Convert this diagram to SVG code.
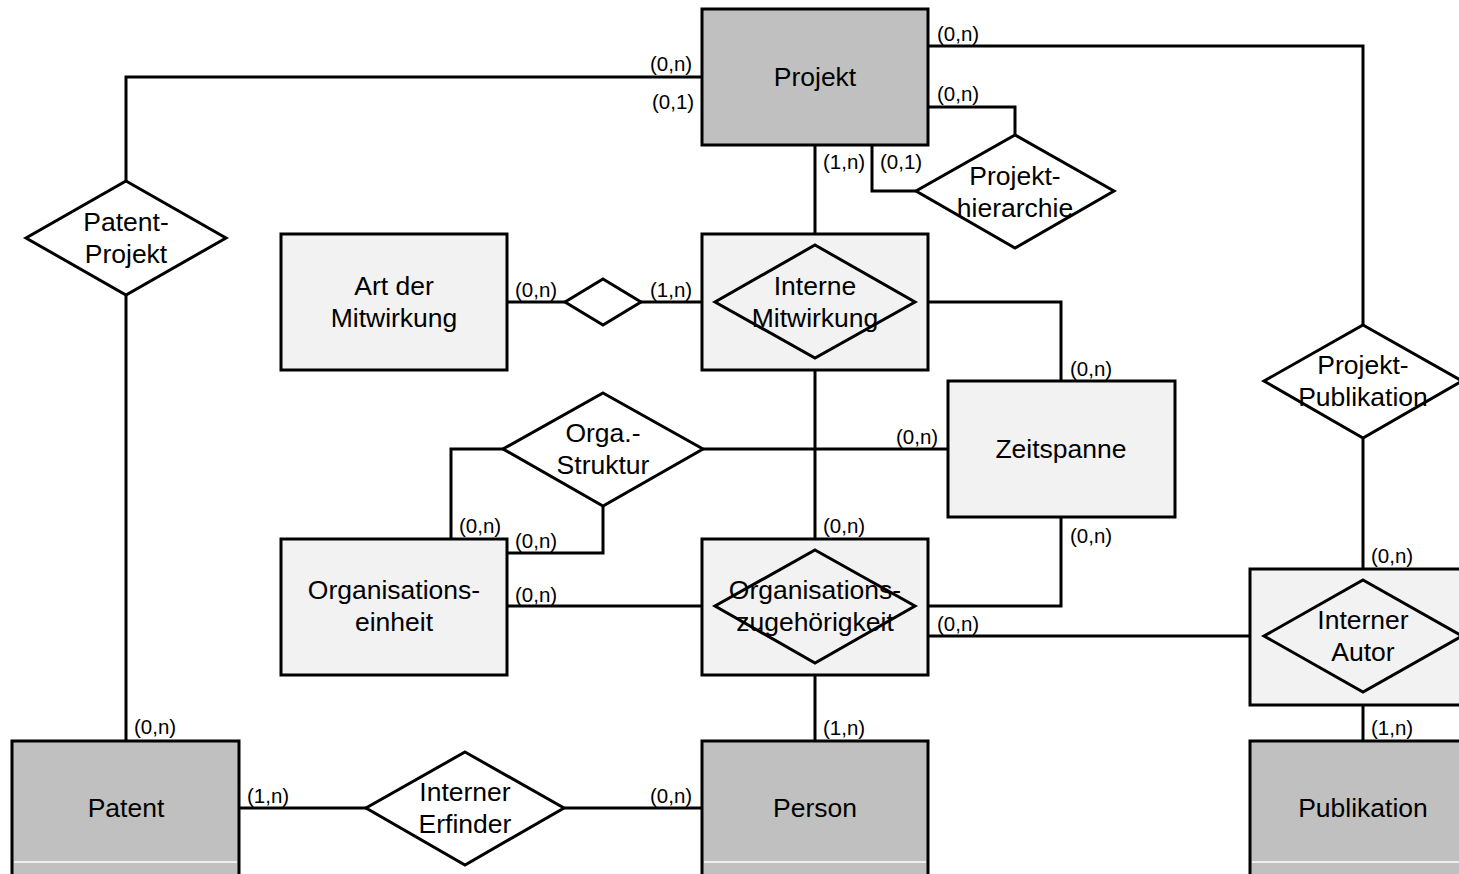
<svg xmlns="http://www.w3.org/2000/svg" width="1459" height="874" viewBox="0 0 1459 874">
<style>
.ent{fill:#c0c0c0;stroke:#000;stroke-width:3}
.lt{fill:#f2f2f2;stroke:#000;stroke-width:3}
.rel{fill:#fff;stroke:#000;stroke-width:3;stroke-linejoin:miter}
.relt{fill:none;stroke:#000;stroke-width:3}
.sep{stroke:#fff;stroke-width:1.5}
.con{fill:none;stroke:#000;stroke-width:3}
.t{font-family:"Liberation Sans",Arial,sans-serif;font-size:26.5px;fill:#000;text-anchor:middle;dominant-baseline:central}
.c{font-family:"Liberation Sans",Arial,sans-serif;font-size:20.5px;fill:#000;dominant-baseline:central}
</style>
<rect width="1459" height="874" fill="#fff"/>
<g id="connectors">
<polyline class="con" points="702,77 126,77 126,181"/>
<line class="con" x1="126" y1="295" x2="126" y2="741"/>
<polyline class="con" points="928,46 1363,46 1363,325"/>
<polyline class="con" points="928,107 1015,107 1015,135"/>
<polyline class="con" points="872,145 872,191 916,191"/>
<line class="con" x1="815" y1="145" x2="815" y2="245"/>
<line class="con" x1="507" y1="302" x2="565" y2="302"/>
<line class="con" x1="641" y1="302" x2="702" y2="302"/>
<polyline class="con" points="915,302 1061,302 1061,381"/>
<line class="con" x1="815" y1="358" x2="815" y2="550"/>
<line class="con" x1="703" y1="449" x2="948" y2="449"/>
<polyline class="con" points="503,449 451,449 451,539"/>
<polyline class="con" points="603,506 603,553 507,553"/>
<line class="con" x1="507" y1="606" x2="715" y2="606"/>
<polyline class="con" points="915,606 1061,606 1061,517"/>
<line class="con" x1="928" y1="636" x2="1264" y2="636"/>
<line class="con" x1="815" y1="663" x2="815" y2="741"/>
<line class="con" x1="1363" y1="438" x2="1363" y2="580"/>
<line class="con" x1="1363" y1="692" x2="1363" y2="741"/>
<line class="con" x1="239" y1="808" x2="366" y2="808"/>
<line class="con" x1="564" y1="808" x2="702" y2="808"/>
<text class="c" x="650" y="63">(0,n)</text>
<text class="c" x="652" y="101">(0,1)</text>
<text class="c" x="134" y="726">(0,n)</text>
<text class="c" x="937" y="33">(0,n)</text>
<text class="c" x="937" y="93">(0,n)</text>
<text class="c" x="880" y="161">(0,1)</text>
<text class="c" x="823" y="161">(1,n)</text>
<text class="c" x="515" y="289">(0,n)</text>
<text class="c" x="650" y="289">(1,n)</text>
<text class="c" x="1070" y="368">(0,n)</text>
<text class="c" x="823" y="525">(0,n)</text>
<text class="c" x="896" y="436">(0,n)</text>
<text class="c" x="459" y="525">(0,n)</text>
<text class="c" x="515" y="540">(0,n)</text>
<text class="c" x="515" y="594">(0,n)</text>
<text class="c" x="1070" y="535">(0,n)</text>
<text class="c" x="937" y="623">(0,n)</text>
<text class="c" x="823" y="727">(1,n)</text>
<text class="c" x="1371" y="555">(0,n)</text>
<text class="c" x="1371" y="727">(1,n)</text>
<text class="c" x="247" y="795">(1,n)</text>
<text class="c" x="650" y="795">(0,n)</text>
</g>
<g id="projekt">
<rect class="ent" x="702" y="9" width="226" height="136"/>
<text class="t" x="815" y="77">Projekt</text>
</g>
<g id="patent-projekt">
<polygon class="rel" points="126,181 226,238 126,295 26,238"/>
<text class="t" x="126" y="222">Patent-</text>
<text class="t" x="126" y="254">Projekt</text>
</g>
<g id="projekthierarchie">
<polygon class="rel" points="1015,135 1114,191 1015,248 916,191"/>
<text class="t" x="1015" y="176">Projekt-</text>
<text class="t" x="1015" y="208">hierarchie</text>
</g>
<g id="art-der-mitwirkung">
<rect class="lt" x="281" y="234" width="226" height="136"/>
<text class="t" x="394" y="286">Art der</text>
<text class="t" x="394" y="318">Mitwirkung</text>
</g>
<g id="mitwirkung-art">
<polygon class="rel" points="603,279 641,302 603,325 565,302"/>
</g>
<g id="interne-mitwirkung">
<rect class="lt" x="702" y="234" width="226" height="136"/>
<polygon class="relt" points="815,245 915,302 815,358 715,302"/>
<text class="t" x="815" y="286">Interne</text>
<text class="t" x="815" y="318">Mitwirkung</text>
</g>
<g id="projekt-publikation">
<polygon class="rel" points="1363,325 1462,381 1363,438 1264,381"/>
<text class="t" x="1363" y="365">Projekt-</text>
<text class="t" x="1363" y="397">Publikation</text>
</g>
<g id="zeitspanne">
<rect class="lt" x="948" y="381" width="227" height="136"/>
<text class="t" x="1061" y="449">Zeitspanne</text>
</g>
<g id="orga-struktur">
<polygon class="rel" points="603,393 703,449 603,506 503,449"/>
<text class="t" x="603" y="433">Orga.-</text>
<text class="t" x="603" y="465">Struktur</text>
</g>
<g id="organisationseinheit">
<rect class="lt" x="281" y="539" width="226" height="136"/>
<text class="t" x="394" y="590">Organisations-</text>
<text class="t" x="394" y="622">einheit</text>
</g>
<g id="organisationszugehoerigkeit">
<rect class="lt" x="702" y="539" width="226" height="136"/>
<polygon class="relt" points="815,550 915,606 815,663 715,606"/>
<text class="t" x="815" y="590">Organisations-</text>
<text class="t" x="815" y="622">zugehörigkeit</text>
</g>
<g id="interner-autor">
<rect class="lt" x="1250" y="569" width="212" height="136"/>
<polygon class="relt" points="1363,580 1462,636 1363,692 1264,636"/>
<text class="t" x="1363" y="620">Interner</text>
<text class="t" x="1363" y="652">Autor</text>
</g>
<g id="patent">
<rect class="ent" x="12" y="741" width="227" height="140"/>
<line class="sep" x1="14" y1="862" x2="237" y2="862"/>
<text class="t" x="126" y="808">Patent</text>
</g>
<g id="interner-erfinder">
<polygon class="rel" points="465,752 564,808 465,865 366,808"/>
<text class="t" x="465" y="792">Interner</text>
<text class="t" x="465" y="824">Erfinder</text>
</g>
<g id="person">
<rect class="ent" x="702" y="741" width="226" height="140"/>
<line class="sep" x1="704" y1="862" x2="926" y2="862"/>
<text class="t" x="815" y="808">Person</text>
</g>
<g id="publikation">
<rect class="ent" x="1250" y="741" width="212" height="140"/>
<line class="sep" x1="1252" y1="862" x2="1462" y2="862"/>
<text class="t" x="1363" y="808">Publikation</text>
</g>
</svg>
